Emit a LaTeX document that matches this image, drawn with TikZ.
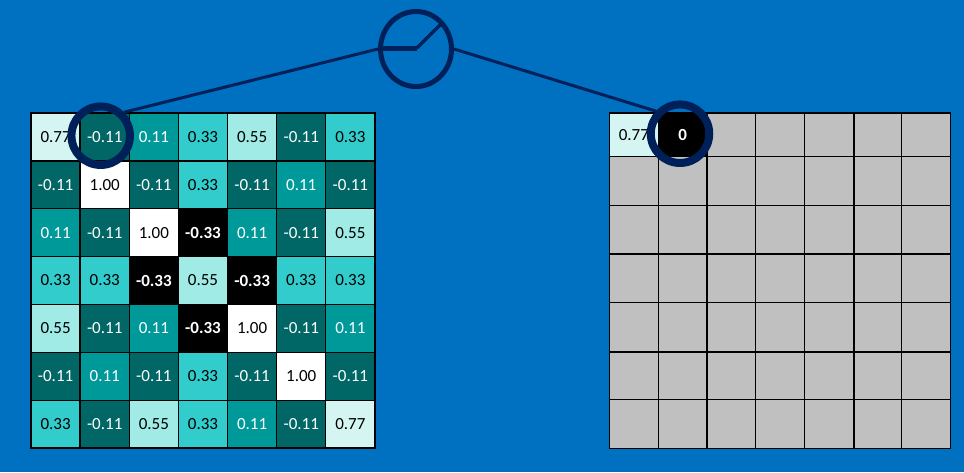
\documentclass[tikz,border=0pt]{standalone}
\usepackage{fontspec}
\setmainfont{Carlito}
\usetikzlibrary{shapes.geometric}
\definecolor{bgblue}{HTML}{0070C0}
\definecolor{navy}{HTML}{00205A}
\definecolor{tA}{HTML}{006666}
\definecolor{tB}{HTML}{009999}
\definecolor{tC}{HTML}{33CCCC}
\definecolor{tD}{HTML}{A0EBE6}
\definecolor{tE}{HTML}{D5F5F3}
\definecolor{cellgrey}{HTML}{C0C0C0}
\tikzset{
  x=1pt,y=-1pt,
  cellbox/.style={draw=black,line width=1.3pt,inner sep=0pt,font=\fontsize{17}{17}\selectfont,anchor=center},
  lcell/.style={cellbox,minimum width=49.14pt,minimum height=47.86pt},
  rcell/.style={cellbox,line width=1.1pt,minimum width=48.71pt,minimum height=48.67pt},
  cA/.style={fill=tA,text=white},
  cB/.style={fill=tB,text=white},
  cC/.style={fill=tC,text=black},
  cD/.style={fill=tD,text=black},
  cE/.style={fill=tE,text=black},
  cW/.style={fill=white,text=black},
  cK/.style={fill=black,text=white,font=\fontsize{17}{17}\selectfont\bfseries},
  cG/.style={fill=cellgrey},
  ring/.style={draw=navy,line width=8pt,circle,minimum size=58.5pt,inner sep=0pt},
  unit/.style={draw=navy,line width=5pt,ellipse,minimum width=71pt,minimum height=75pt,inner sep=0pt},
  wire/.style={draw=navy,line width=3pt},
  heavy/.style={draw=black,line width=2pt},
}
\begin{document}
\begin{tikzpicture}
\path[fill=bgblue] (0,0) rectangle (964,472);
\useasboundingbox (0,0) rectangle (964,472);
% left grid
\foreach \txt/\sty [count=\n from 0] in {
0.77/cE,-0.11/cA,0.11/cB,0.33/cC,0.55/cD,-0.11/cA,0.33/cC,
-0.11/cA,1.00/cW,-0.11/cA,0.33/cC,-0.11/cA,0.11/cB,-0.11/cA,
0.11/cB,-0.11/cA,1.00/cW,-0.33/cK,0.11/cB,-0.11/cA,0.55/cD,
0.33/cC,0.33/cC,-0.33/cK,0.55/cD,-0.33/cK,0.33/cC,0.33/cC,
0.55/cD,-0.11/cA,0.11/cB,-0.33/cK,1.00/cW,-0.11/cA,0.11/cB,
-0.11/cA,0.11/cB,-0.11/cA,0.33/cC,-0.11/cA,1.00/cW,-0.11/cA,
0.33/cC,-0.11/cA,0.55/cD,0.33/cC,0.11/cB,-0.11/cA,0.77/cE}{
  \pgfmathtruncatemacro{\cx}{mod(\n,7)}
  \pgfmathtruncatemacro{\cy}{int(\n/7)}
  \node[lcell,\sty] (L\n) at ({31+49.14*(\cx+0.5)},{113+47.86*(\cy+0.5)}) {\txt};
}
% right grid
\foreach \n in {0,...,48}{
  \pgfmathtruncatemacro{\cx}{mod(\n,7)}
  \pgfmathtruncatemacro{\cy}{int(\n/7)}
  \ifnum\n=0
    \node[rcell,cE,minimum height=43.5pt] (R\n) at ({609.5+48.71*(\cx+0.5)},134.75) {0.77};
  \else\ifnum\n=1
    \node[rcell,cK,minimum height=43.5pt] (R\n) at ({609.5+48.71*(\cx+0.5)},134.75) {0};
  \else\ifnum\cy=0
    \node[rcell,cG,minimum height=43.5pt] (R\n) at ({609.5+48.71*(\cx+0.5)},134.75) {};
  \else
    \node[rcell,cG] (R\n) at ({609.5+48.71*(\cx+0.5)},{156.5+48.67*(\cy-0.5)}) {};
  \fi\fi\fi
}
\draw[heavy] (R1.north east) -- (R43.south east);
\draw[heavy] (R4.north east) -- (R46.south east);
\draw[heavy] (R14.south west) -- (R20.south east);
\draw[heavy] (R28.south west) -- (R34.south east);
% rings and unit
\node[ring] (src) at (100.7,135.7) {};
\node[ring] (dst) at (680,133.7) {};
\node[unit] (unit) at (416,49) {};
\coordinate (bend) at (417,48);
\coordinate (tip) at (441,24);
\draw[wire] (src.45) -- (unit.180);
\draw[wire] (unit.0) -- (dst.137);
\draw[navy,line width=5pt] (unit.west |- bend) -- (bend);
\draw[navy,line width=3.5pt,line join=round,line cap=round] (bend) -- (tip);
\end{tikzpicture}
\end{document}
